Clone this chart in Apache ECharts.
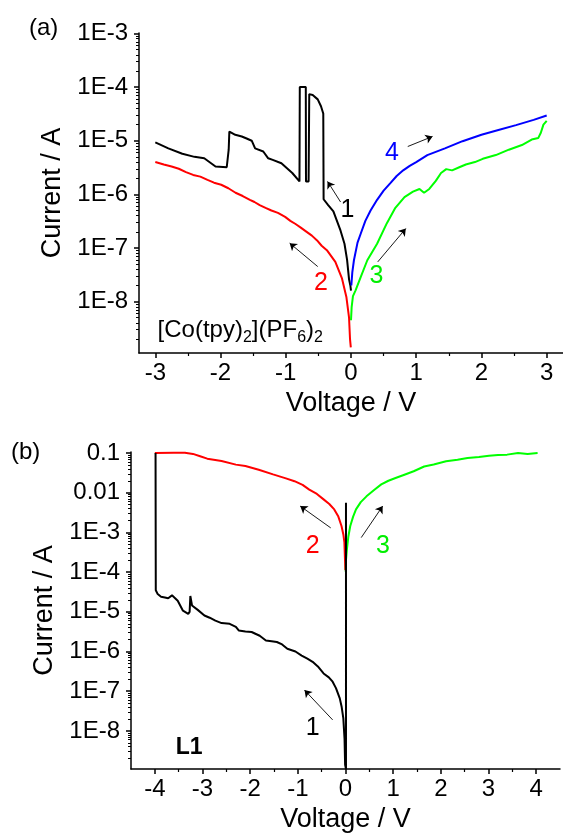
<!DOCTYPE html>
<html><head><meta charset="utf-8">
<script src="https://cdn.jsdelivr.net/npm/echarts@6/dist/echarts.min.js"></script>
<style>html,body{margin:0;padding:0;background:#fff}#c{width:563px;height:834px}</style>
</head><body><div id="c"></div>
<script>
// ---------------- Panel (a) data: voltage (V) and current (A) ----------------
const aBlackV = [0, -0.01, -0.03, -0.06, -0.1, -0.16, -0.27, -0.35, -0.42, -0.425, -0.435, -0.46, -0.51, -0.587, -0.64, -0.647, -0.65, -0.69, -0.693, -0.705, -0.785, -0.79, -0.9, -1.067, -1.2, -1.269, -1.345, -1.47, -1.522, -1.6, -1.674, -1.774, -1.865, -1.875, -1.905, -1.916, -1.93, -2.077, -2.1, -2.25, -2.4, -2.586, -2.8, -3.0];
const aBlackI = [1.6e-8, 2.0e-8, 2.6e-8, 6.0e-8, 1.2e-7, 2.1e-7, 4.8e-7, 6.3e-7, 8.1e-7, 3.2e-5, 3.5e-5, 4.4e-5, 5.9e-5, 7.1e-5, 7.4e-5, 7.2e-5, 1.74e-6, 1.74e-6, 1.0e-4, 1.02e-4, 1.0e-4, 1.74e-6, 2.5e-6, 3.8e-6, 4.4e-6, 4.7e-6, 6.3e-6, 7.2e-6, 1.0e-5, 1.1e-5, 1.2e-5, 1.29e-5, 1.48e-5, 6.8e-6, 3.2e-6, 3.1e-6, 3.1e-6, 3.3e-6, 3.5e-6, 4.7e-6, 5.0e-6, 5.7e-6, 7.2e-6, 9.3e-6];

const aRedV = [-0.003, -0.015, -0.03, -0.07, -0.14, -0.24, -0.37, -0.45, -0.52, -0.6, -0.68, -0.77, -0.85, -0.93, -1.01, -1.12, -1.22, -1.31, -1.4, -1.48, -1.55, -1.66, -1.77, -1.88, -1.99, -2.1, -2.2, -2.31, -2.42, -2.53, -2.64, -2.75, -2.87, -3.0];
const aRedI = [1.4e-9, 2.0e-9, 5.0e-9, 1.2e-8, 2.75e-8, 5.5e-8, 9.1e-8, 1.1e-7, 1.38e-7, 1.7e-7, 2.0e-7, 2.4e-7, 2.8e-7, 3.2e-7, 3.8e-7, 4.5e-7, 5.0e-7, 5.6e-7, 6.3e-7, 7.2e-7, 7.9e-7, 9.3e-7, 1.07e-6, 1.3e-6, 1.51e-6, 1.65e-6, 1.86e-6, 2.14e-6, 2.3e-6, 2.6e-6, 3.0e-6, 3.3e-6, 3.6e-6, 4.0e-6];

const aBlueV = [0.005, 0.02, 0.045, 0.1, 0.15, 0.22, 0.3, 0.4, 0.5, 0.6, 0.7, 0.8, 0.9, 1.0, 1.17, 1.44, 1.71, 2.0, 2.26, 2.53, 2.8, 3.0];
const aBlueI = [2.0e-8, 3.5e-8, 5.9e-8, 1.26e-7, 1.86e-7, 3.2e-7, 5.0e-7, 7.9e-7, 1.17e-6, 1.6e-6, 2.2e-6, 2.8e-6, 3.4e-6, 4.0e-6, 5.4e-6, 7.2e-6, 9.8e-6, 1.29e-5, 1.58e-5, 1.95e-5, 2.45e-5, 2.95e-5];

const aGreenV = [0.0, 0.01, 0.03, 0.07, 0.15, 0.25, 0.4, 0.55, 0.68, 0.82, 0.95, 1.05, 1.12, 1.2, 1.3, 1.38, 1.46, 1.55, 1.66, 1.76, 1.9, 2.02, 2.22, 2.42, 2.62, 2.77, 2.87, 2.91, 2.95, 3.0];
const aGreenI = [4.5e-9, 7.9e-9, 1.26e-8, 1.62e-8, 2.9e-8, 5.9e-8, 1.2e-7, 2.9e-7, 5.6e-7, 8.9e-7, 1.12e-6, 1.26e-6, 1.07e-6, 1.26e-6, 1.78e-6, 2.5e-6, 2.95e-6, 2.8e-6, 3.2e-6, 3.6e-6, 4.0e-6, 4.6e-6, 5.4e-6, 6.8e-6, 8.3e-6, 1.05e-5, 1.12e-5, 1.41e-5, 2.0e-5, 2.35e-5];

// ---------------- Panel (b) data ----------------
const bBlackV = [0.01, 0.01, -0.008, -0.02, -0.046, -0.08, -0.12, -0.2, -0.27, -0.35, -0.46, -0.58, -0.69, -0.8, -0.92, -1.05, -1.22, -1.33, -1.44, -1.55, -1.67, -1.8, -1.97, -2.1, -2.24, -2.3, -2.43, -2.6, -2.73, -2.85, -2.96, -3.1, -3.22, -3.255, -3.262, -3.27, -3.30, -3.41, -3.52, -3.58, -3.64, -3.72, -3.79, -3.87, -3.94, -3.98, -3.985];
const bBlackI = [5.6e-3, 1.1e-9, 1.4e-9, 6.3e-9, 2.1e-8, 4.0e-8, 6.6e-8, 1.2e-7, 1.74e-7, 2.24e-7, 2.8e-7, 4.2e-7, 5.5e-7, 6.6e-7, 7.9e-7, 1.0e-6, 1.17e-6, 1.51e-6, 1.74e-6, 1.82e-6, 1.9e-6, 2.5e-6, 3.1e-6, 3.2e-6, 3.4e-6, 4.2e-6, 5.0e-6, 5.2e-6, 6.0e-6, 7.1e-6, 8.1e-6, 1.12e-5, 1.45e-5, 2.5e-5, 2.6e-5, 1.0e-5, 8.9e-6, 1.07e-5, 1.9e-5, 2.24e-5, 2.6e-5, 2.2e-5, 2.3e-5, 2.4e-5, 2.8e-5, 3.5e-5, 0.1];

const bRedV = [-4.0, -3.6, -3.37, -3.2, -3.05, -2.9, -2.6, -2.3, -2.1, -1.82, -1.52, -1.25, -1.07, -0.9, -0.76, -0.6, -0.46, -0.34, -0.236, -0.15, -0.084, -0.045, -0.023, -0.01, -0.005];
const bRedI = [0.1, 0.102, 0.102, 0.095, 0.083, 0.072, 0.063, 0.051, 0.047, 0.038, 0.029, 0.023, 0.0195, 0.0158, 0.012, 0.0093, 0.0068, 0.0052, 0.0038, 0.0025, 0.00145, 0.00089, 0.00056, 0.0002, 0.000112];

const bGreenV = [0.006, 0.01, 0.03, 0.06, 0.1, 0.16, 0.22, 0.32, 0.44, 0.6, 0.75, 0.9, 1.05, 1.25, 1.43, 1.65, 1.85, 2.11, 2.35, 2.56, 2.8, 3.01, 3.2, 3.39, 3.62, 3.82, 4.03];
const bGreenI = [1.0e-4, 2.0e-4, 3.8e-4, 7.9e-4, 1.45e-3, 2.5e-3, 3.8e-3, 5.8e-3, 8.1e-3, 0.0117, 0.0162, 0.02, 0.0234, 0.0288, 0.0347, 0.0457, 0.0513, 0.0617, 0.0676, 0.075, 0.079, 0.085, 0.089, 0.091, 0.1, 0.095, 0.1];

// ---------------- Axes: ranges and tick labels ----------------
const aXRange = [-3.25, 3.25];
const aXTicks = [-3, -2, -1, 0, 1, 2, 3];
const aXMinor = [-2.5, -1.5, -0.5, 0.5, 1.5, 2.5];
const aYRange = [1.1e-9, 1.02e-3];
const aYTicks = [1e-8, 1e-7, 1e-6, 1e-5, 1e-4, 1e-3];
const aYTickLabels = ['1E-8', '1E-7', '1E-6', '1E-5', '1E-4', '1E-3'];

const bXRange = [-4.5, 4.5];
const bXTicks = [-4, -3, -2, -1, 0, 1, 2, 3, 4];
const bXMinor = [-3.5, -2.5, -1.5, -0.5, 0.5, 1.5, 2.5, 3.5];
const bYRange = [1.1e-9, 0.106];
const bYTicks = [1e-8, 1e-7, 1e-6, 1e-5, 1e-4, 1e-3, 1e-2, 1e-1];
const bYTickLabels = ['1E-8', '1E-7', '1E-6', '1E-5', '1E-4', '1E-3', '0.01', '0.1'];

// ---------------- Annotations (text + arrows, data coordinates) ----------------
const aNotes = [
  {t: '1', v: -0.056, i: 5.1e-7, c: '#000000'},
  {t: '2', v: -0.46, i: 2.2e-8, c: '#ff0000'},
  {t: '3', v: 0.39, i: 3.0e-8, c: '#00ee00'},
  {t: '4', v: 0.626, i: 5.9e-6, c: '#0000ff'}
];
const aArrows = [
  [0.87, 7.8e-6, 1.25, 1.2e-5],
  [-0.16, 7.2e-7, -0.36, 1.74e-6],
  [-0.51, 4.5e-8, -0.94, 1.23e-7],
  [0.41, 5.5e-8, 0.84, 2.3e-7]
];
const aFormula = {v: -2.965, i: 2.9e-9};
const bNotes = [
  {t: '2', v: -0.69, i: 4.6e-4, c: '#ff0000'},
  {t: '3', v: 0.785, i: 4.6e-4, c: '#00ee00'},
  {t: '1', v: -0.69, i: 1.17e-8, c: '#000000'}
];
const bArrows = [
  [-0.31, 1.3e-3, -0.95, 4.6e-3],
  [0.33, 7.4e-4, 0.78, 4.6e-3],
  [-0.27, 1.9e-8, -0.86, 1.07e-7]
];
const bL1 = {v: -3.56, i: 3.8e-9};

// ---------------- Build ----------------
const FONT = '"Liberation Sans", Arial, Helvetica, sans-serif';
const L = Math.log10;
const pts = (V, I) => V.map((v, k) => [v, L(I[k])]);
function minorLog(lo, hi) {
  const out = [];
  for (let d = Math.floor(lo) - 1; d <= Math.ceil(hi); d++)
    for (let k = 2; k <= 9; k++) { const v = d + L(k); if (v > lo && v < hi) out.push(v); }
  return out;
}
const axLine = {show: true, onZero: false, lineStyle: {color: '#000', width: 1.5}};

function xAxes(grid, range, ticks, minor) {
  const fmt = v => String(Math.round(v));
  return [
    {type: 'value', gridIndex: grid, position: 'bottom', min: range[0], max: range[1],
     axisLine: axLine, splitLine: {show: false},
     axisTick: {show: true, length: 5, customValues: ticks, lineStyle: {color: '#000', width: 1.5}},
     axisLabel: {show: true, customValues: ticks, formatter: fmt, color: '#000', fontSize: 24, fontFamily: FONT, margin: 8},
     name: 'Voltage / V', nameLocation: 'middle', nameGap: 37,
     nameTextStyle: {color: '#000', fontSize: 27, fontFamily: FONT}},
    {type: 'value', gridIndex: grid, position: 'bottom', min: range[0], max: range[1],
     axisLine: {show: false, onZero: false}, splitLine: {show: false}, axisLabel: {show: false},
     axisTick: {show: true, length: 3, customValues: minor, lineStyle: {color: '#000', width: 1.2}}}
  ];
}
function yAxes(grid, range, ticks, labels) {
  const lo = L(range[0]), hi = L(range[1]);
  const lt = ticks.map(L);
  const fmt = v => { const k = lt.findIndex(t => Math.abs(t - v) < 1e-6); return k >= 0 ? labels[k] : ''; };
  return [
    {type: 'value', gridIndex: grid, position: 'left', min: lo, max: hi,
     axisLine: axLine, splitLine: {show: false},
     axisTick: {show: true, length: 5, customValues: lt, lineStyle: {color: '#000', width: 1.5}},
     axisLabel: {show: true, customValues: lt, formatter: fmt, color: '#000', fontSize: 24, fontFamily: FONT, margin: 11},
     name: 'Current / A', nameLocation: 'middle', nameGap: 72, nameRotate: 90,
     nameTextStyle: {color: '#000', fontSize: 27, fontFamily: FONT}},
    {type: 'value', gridIndex: grid, position: 'left', min: lo, max: hi,
     axisLine: {show: false, onZero: false}, splitLine: {show: false}, axisLabel: {show: false},
     axisTick: {show: true, length: 3, customValues: minorLog(lo, hi), lineStyle: {color: '#000', width: 1}}}
  ];
}
function line(xi, yi, V, I, color, w) {
  return {type: 'line', xAxisIndex: xi, yAxisIndex: yi, data: pts(V, I), showSymbol: false, symbol: 'none',
          lineStyle: {color: color, width: w}, itemStyle: {color: color}, silent: true, z: 3};
}
function notes(xi, yi, arr) {
  return {type: 'scatter', xAxisIndex: xi, yAxisIndex: yi, symbolSize: 0, silent: true, z: 5,
    itemStyle: {opacity: 1},
    data: arr.map(n => ({value: [n.v, L(n.i)], label: {show: true, position: 'inside', formatter: n.t,
      color: n.c, opacity: 1, textBorderWidth: 0, fontSize: 25, fontFamily: FONT}}))};
}
function arrows(xi, yi, arr) {
  return {type: 'lines', coordinateSystem: 'cartesian2d', xAxisIndex: xi, yAxisIndex: yi, silent: true, z: 5,
    symbol: ['none', 'arrow'], symbolSize: 7,
    lineStyle: {color: '#000', width: 0.9, opacity: 1},
    data: arr.map(a => ({coords: [[a[0], L(a[1])], [a[2], L(a[3])]]}))};
}

const option = {
  animation: false,
  backgroundColor: '#fff',
  title: [
    {text: '(a)', left: 29, top: 16, padding: 0, textStyle: {fontSize: 24, fontWeight: 'normal', color: '#000', fontFamily: FONT}},
    {text: '(b)', left: 11, top: 440, padding: 0, textStyle: {fontSize: 24, fontWeight: 'normal', color: '#000', fontFamily: FONT}}
  ],
  grid: [
    {left: 139, top: 33, width: 429, height: 320, containLabel: false},
    {left: 131, top: 452, width: 429, height: 319, containLabel: false}
  ],
  xAxis: [...xAxes(0, aXRange, aXTicks, aXMinor), ...xAxes(1, bXRange, bXTicks, bXMinor)],
  yAxis: [...yAxes(0, aYRange, aYTicks, aYTickLabels), ...yAxes(1, bYRange, bYTicks, bYTickLabels)],
  series: [
    line(0, 0, aBlackV, aBlackI, '#000000', 2),
    line(0, 0, aBlueV, aBlueI, '#0000ff', 2),
    line(0, 0, aGreenV, aGreenI, '#00ff00', 2),
    line(0, 0, aRedV, aRedI, '#ff0000', 2),
    notes(0, 0, aNotes),
    arrows(0, 0, aArrows),
    {type: 'scatter', xAxisIndex: 0, yAxisIndex: 0, symbolSize: 0, silent: true, z: 5, itemStyle: {opacity: 1},
     data: [{value: [aFormula.v, L(aFormula.i)], label: {show: true, position: 'right', distance: 0,
       formatter: '[Co(tpy){s|2}](PF{s|6}){s|2}', color: '#000', opacity: 1, fontSize: 24, lineHeight: 30, fontFamily: FONT,
       rich: {s: {fontSize: 16, lineHeight: 18, verticalAlign: 'bottom', color: '#000', fontFamily: FONT}}}}]},
    line(2, 2, bRedV, bRedI, '#ff0000', 2),
    line(2, 2, bGreenV, bGreenI, '#00ff00', 2),
    line(2, 2, bBlackV, bBlackI, '#000000', 2),
    notes(2, 2, bNotes),
    arrows(2, 2, bArrows),
    {type: 'scatter', xAxisIndex: 2, yAxisIndex: 2, symbolSize: 0, silent: true, z: 5, itemStyle: {opacity: 1},
     data: [{value: [bL1.v, L(bL1.i)], label: {show: true, position: 'right', distance: 0, formatter: 'L1',
       color: '#000', opacity: 1, fontSize: 23, fontWeight: 'bold', fontFamily: FONT}}]}
  ]
};
const chart = echarts.init(document.getElementById('c'), null, {renderer: 'canvas'});
chart.setOption(option);
</script></body></html>
